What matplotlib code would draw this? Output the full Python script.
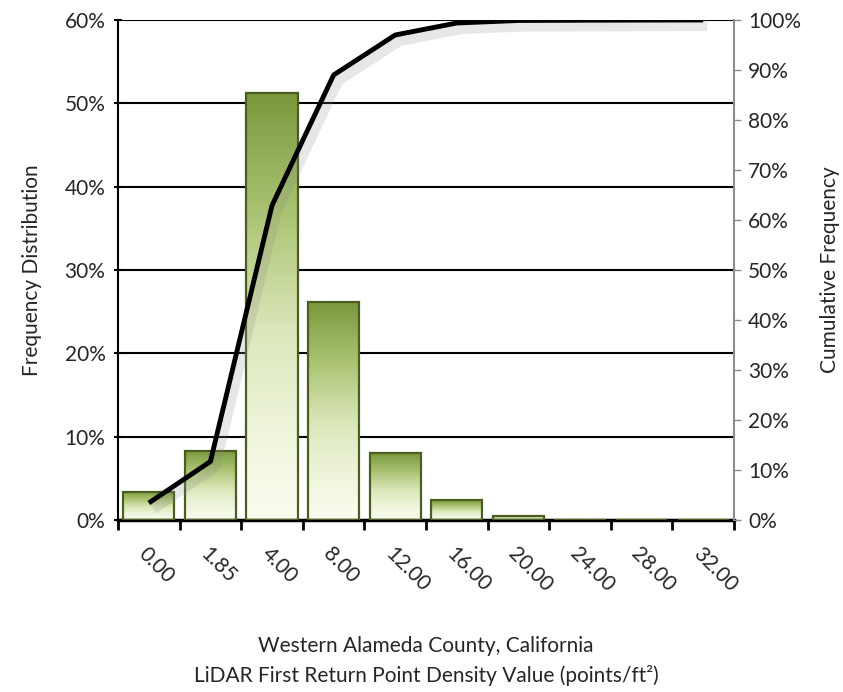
import numpy as np
import matplotlib
matplotlib.use("Agg")
import matplotlib.pyplot as plt
import matplotlib.patheffects as pe
from matplotlib.colors import LinearSegmentedColormap
from matplotlib.ticker import FuncFormatter, MultipleLocator, FixedLocator

categories = ["0.00", "1.85", "4.00", "8.00", "12.00", "16.00", "20.00", "24.00", "28.00", "32.00"]
frequency = [3.4, 8.3, 51.2, 26.1, 8.0, 2.4, 0.5, 0.05, 0.03, 0.02]
cumulative = np.cumsum(frequency)

left_label = "Frequency Distribution"
right_label = "Cumulative Frequency"
x_label = "Western Alameda County, California\nLiDAR First Return Point Density Value (points/ft²)"

plt.rcParams['font.family'] = ['Lato', 'DejaVu Sans']
text_color = "#262626"
fs = 15

fig = plt.figure(figsize=(8.43, 6.92), dpi=100)
ax = fig.add_axes([0.140, 0.2486, 0.7307, 0.7225])
ax2 = ax.twinx()

x = np.arange(len(categories))
bar_w = 0.83
bars = ax.bar(x, frequency, width=bar_w, facecolor="none", edgecolor="#4A5E22",
              linewidth=1.6, zorder=3)

cmap = LinearSegmentedColormap.from_list("g", ["#FAFCEE", "#DCE8BC", "#A9C170", "#7A983D"])
grad = np.linspace(0, 1, 256).reshape(-1, 1) ** 1.3
for b in bars:
    bx, by = b.get_x(), b.get_y()
    bw, bh = b.get_width(), b.get_height()
    if bh <= 0:
        continue
    im = ax.imshow(grad, cmap=cmap, aspect="auto", origin="lower",
                   extent=[bx, bx + bw, by, by + bh], zorder=2, interpolation="bilinear")
    im.set_clip_path(b)

ax.set_xlim(-0.5, len(categories) - 0.5)
ax.set_ylim(0, 60)
ax.yaxis.set_major_locator(MultipleLocator(10))
ax.yaxis.set_major_formatter(FuncFormatter(lambda v, p: f"{v:.0f}%"))
ax.grid(axis="y", color="black", linewidth=1.5, zorder=1)
ax.set_axisbelow(True)

ax.set_xticks(x)
ax.set_xticklabels(categories, rotation=-45, ha="left", va="top",
                   rotation_mode="anchor", fontsize=fs, color=text_color)
ax.tick_params(axis="x", which="major", length=0, pad=17)
ax.xaxis.set_minor_locator(FixedLocator(np.arange(-0.5, len(categories), 1.0)))
ax.tick_params(axis="x", which="minor", length=7, width=2, color="black", direction="out")
for lbl in ax.get_xticklabels():
    x0, y0 = lbl.get_position()
    lbl.set_x(x0 - 0.18)

ax.tick_params(axis="y", length=6, width=1.5, direction="inout", labelsize=fs,
               labelcolor=text_color, pad=6)

for s in ["left", "bottom"]:
    ax.spines[s].set_color("black")
ax.spines["left"].set_linewidth(1.5)
ax.spines["bottom"].set_linewidth(2.5)
ax.spines["top"].set_visible(False)
ax.spines["right"].set_visible(False)

ax2.set_ylim(0, 100)
ax2.yaxis.set_major_locator(MultipleLocator(10))
ax2.yaxis.set_major_formatter(FuncFormatter(lambda v, p: f"{v:.0f}%"))
ax2.tick_params(axis="y", length=5, width=1, color="#8C8C8C", direction="out",
                labelsize=fs, labelcolor=text_color, pad=5)
for s in ["left", "bottom", "top"]:
    ax2.spines[s].set_visible(False)
ax2.spines["right"].set_color("#8C8C8C")
ax2.spines["right"].set_linewidth(1.5)

ax2.plot(x, cumulative, color="black", linewidth=3.5, solid_capstyle="butt", zorder=5,
         path_effects=[pe.SimpleLineShadow(offset=(3, -4), shadow_color="#888888", alpha=0.2,
                                           linewidth=8),
                       pe.Normal()])

ax.set_ylabel(left_label, fontsize=fs, color=text_color, labelpad=16)
ax2.set_ylabel(right_label, fontsize=fs, color=text_color, labelpad=14)
ax.set_xlabel(x_label, fontsize=fs, color=text_color, labelpad=29, linespacing=1.55)

fig.savefig("out.png", dpi=100, facecolor="white")
